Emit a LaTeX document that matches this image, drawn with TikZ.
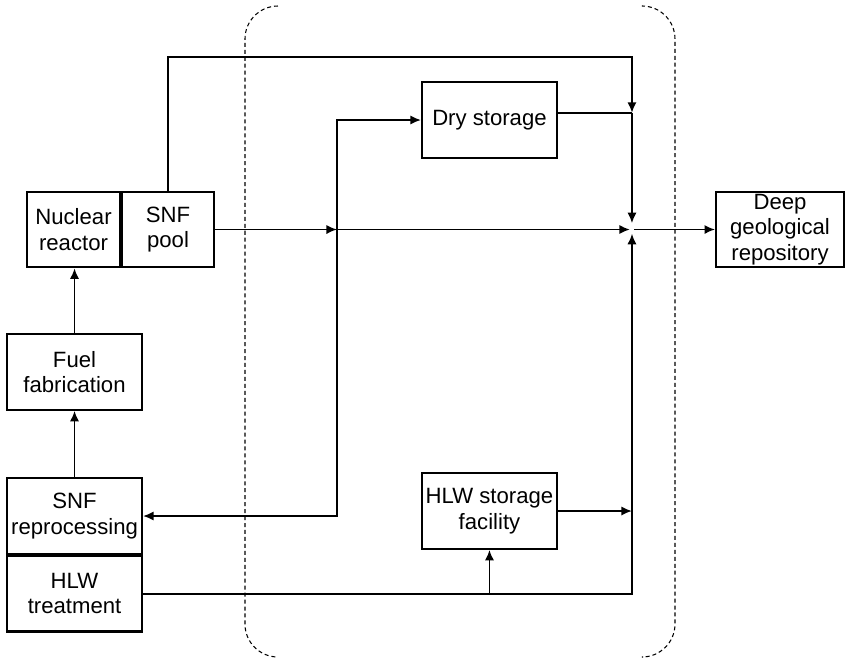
\documentclass[tikz,border=0pt]{standalone}
\usepackage{fontspec}
\setmainfont{Liberation Sans}
\usetikzlibrary{arrows.meta,positioning}

\begin{document}
\begin{tikzpicture}[>={Latex[length=5pt,width=4.4pt]},line width=0.9pt,
  every node/.style={font=\fontsize{10.5}{12}\selectfont},
  box/.style={draw,line width=1pt,align=center,inner sep=0pt,minimum width=2.25cm,minimum height=1.26cm},
  zone/.style={line width=0.5pt,dash pattern=on 1.9pt off 1.4pt,rounded corners=0.55cm}]
\useasboundingbox (0,0) rectangle (14.1,-10.967);
% storage zone
\draw[zone] (4.633,-0.1) -- (4.083,-0.1) -- (4.083,-10.95) -- (4.633,-10.95);
\draw[zone] (10.717,-0.1) -- (11.25,-0.1) -- (11.25,-10.95) -- (10.717,-10.95);
\node[box,minimum width=1.55cm] (reactor) at (1.225,-3.825) {Nuclear\\reactor};
\node[box,minimum width=1.53cm,right=0pt of reactor] (pool) {SNF\\pool};
\node[box] (fab) at (1.242,-6.2) {Fuel\\fabrication};
\node[box] (reproc) at (1.242,-8.6) {SNF\\reprocessing};
\node[box,below=0pt of reproc] (treat) {HLW\\treatment};
\node[box] (dry) at (8.158,-2.0) {Dry storage};
\node[box] (hlw) at (8.158,-8.517) {HLW storage\\facility};
\node[box,minimum width=2.13cm] (repo) at (13.0,-3.825) {Deep\\geological\\repository};
\coordinate (j) at (10.533,-3.825);
\coordinate (split) at (5.617,-3.825);
\coordinate (tr) at (10.533,-0.95);
\coordinate (m1) at ([yshift=1.2mm]dry.east -| j);
% fuel cycle
\draw[->] (fab.north) -- (fab.north |- reactor.south);
\draw[->] (reproc.north) -- (fab.south);
\draw[->] (pool.north) |- (tr) -- (m1);
\draw ([yshift=1.2mm]dry.east) -- (m1);
\draw[->,shorten >=3pt] (m1) -- (j);
\draw[->] (pool.east) -- (split);
\draw[->,shorten >=1pt] (split) -- (j);
\draw[<->] (reproc.east) -| (dry.west -| split) -- (dry.west);
\draw[->,shorten <=1pt] (j) -- (repo.west);
\draw[->,shorten >=2pt] (treat.east) -| (j);
\draw[->] (hlw.south |- treat.east) -- (hlw.south);
\draw[->] (hlw.east) -- (hlw.east -| j);
\end{tikzpicture}
\end{document}
